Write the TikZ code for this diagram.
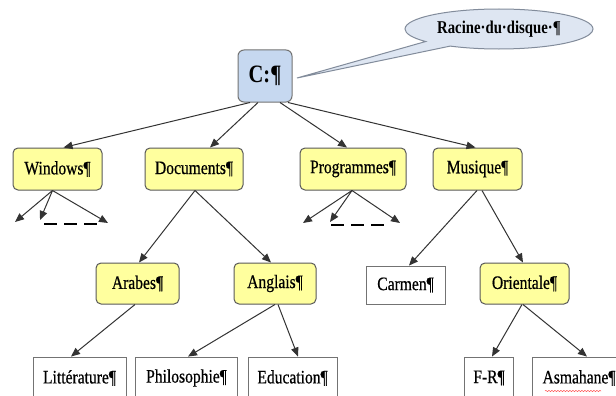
\documentclass[tikz,border=0pt]{standalone}
\usepackage{fontspec}
\setmainfont{Liberation Serif}[FakeStretch=0.82]
\newfontfamily\lblfont{Liberation Serif}[FakeStretch=0.82,FakeBold=0.6]
\usetikzlibrary{arrows.meta,shapes.callouts,decorations.pathmorphing}
\definecolor{ylw}{RGB}{255,255,158}
\definecolor{cblue}{RGB}{198,216,240}
\definecolor{callfill}{RGB}{222,230,242}
\definecolor{callline}{RGB}{130,140,155}
\begin{document}
\begin{tikzpicture}[x=1pt,y=-1pt,
  lbl/.style={font=\lblfont\fontsize{19}{21}\selectfont},
  ybox/.style={lbl, draw=black!65, fill=ylw, rounded corners=5pt, line width=1pt,
    minimum height=42pt, inner sep=2pt},
  wbox/.style={lbl, draw=black!55, fill=white, line width=0.9pt,
    minimum height=40pt, inner sep=2pt},
  cbox/.style={draw=black!55, fill=cblue, rounded corners=6pt, line width=1pt,
    minimum width=54pt, minimum height=52pt, inner sep=2pt,
    font=\fontsize{25}{27}\selectfont\bfseries},
  link/.style={draw=black!80, line width=1pt, -{Triangle[length=9pt,width=7.5pt]}},
  dashline/.style={draw=black, line width=2.8pt, dash pattern=on 13pt off 7pt}
]
\useasboundingbox (0,0) rectangle (616,396);
\clip (0,0) rectangle (616,396);
\fill[white] (0,0) rectangle (616,396);

% root and callout
\node[cbox] (C) at (265,76) {C:¶};
\coordinate (tip) at (297,78);
\node[ellipse callout, draw=callline, fill=callfill, line width=1pt,
  minimum width=188pt, minimum height=40pt, callout pointer arc=20,
  callout absolute pointer={(tip)},
  font=\fontsize{18}{20}\selectfont\bfseries] (call) at (499,29) {Racine·du·disque·¶};

% level 1
\node[ybox, minimum width=89pt] (win) at (57.5,169) {Windows¶};
\node[ybox, minimum width=98pt] (doc) at (194,169) {Documents¶};
\node[ybox, minimum width=106pt] (prog) at (353,169) {Programmes¶};
\node[ybox, minimum width=89pt] (mus) at (477.5,169) {Musique¶};

% level 2
\node[ybox, minimum width=83pt, minimum height=41pt] (arab) at (137.5,283.5) {Arabes¶};
\node[ybox, minimum width=82pt, minimum height=41pt] (angl) at (275,283.5) {Anglais¶};
\node[wbox, minimum width=79pt, minimum height=38pt] (carm) at (405.5,285) {Carmen¶};
\node[ybox, minimum width=89pt, minimum height=41pt] (orie) at (524.5,283.5) {Orientale¶};

% level 3
\node[wbox, minimum width=93pt, minimum height=42pt] (litt) at (79.5,378) {Littérature¶};
\node[wbox, minimum width=102pt, minimum height=42pt] (philo) at (186.5,378) {Philosophie¶};
\node[wbox, minimum width=89pt, minimum height=42pt] (edu) at (292.5,378) {Education¶};
\node[wbox, minimum width=49pt, minimum height=42pt] (fr) at (489,378) {F-R¶};
\node[wbox, minimum width=94pt, minimum height=42pt] (asma) at (579,378) {Asmahane¶};
\draw[red!70, line width=0.5pt, decorate, decoration={snake, amplitude=0.6pt, segment length=3pt}] (545,391) -- (601,391);

% links from root
\draw[link] ([xshift=-15pt]C.south) -- ([xshift=6pt]win.north);
\draw[link] ([xshift=-7pt]C.south) -- ([xshift=16pt]doc.north);
\draw[link] ([xshift=15pt]C.south) -- ([xshift=-6pt]prog.north);
\draw[link] ([xshift=23pt]C.south) -- ([xshift=-2pt]mus.north);

% Windows children
\coordinate (w1) at (15,222);
\coordinate (w2) at (40,220);
\coordinate (w3) at (108,223);
\coordinate (wd1) at (44,224);
\coordinate (wd2) at (97,224);
\draw[link] ([xshift=-5pt]win.south) -- (w1);
\draw[link] ([xshift=-5pt]win.south) -- (w2);
\draw[link] ([xshift=-5pt]win.south) -- (w3);
\draw[dashline] (wd1) -- (wd2);

% Programmes children
\coordinate (p1) at (303,223);
\coordinate (p2) at (330,222);
\coordinate (p3) at (400,223);
\coordinate (pd1) at (331,225);
\coordinate (pd2) at (390,225);
\draw[link] ([xshift=-1pt]prog.south) -- (p1);
\draw[link] ([xshift=-1pt]prog.south) -- (p2);
\draw[link] ([xshift=-1pt]prog.south) -- (p3);
\draw[dashline] (pd1) -- (pd2);

% Documents, Musique
\draw[link] ([xshift=1pt]doc.south) -- ([xshift=1.5pt]arab.north);
\draw[link] ([xshift=1pt]doc.south) -- ([xshift=-4pt]angl.north);
\draw[link] ([xshift=-0.5pt]mus.south) -- ([xshift=3.5pt]carm.north);
\draw[link] ([xshift=4.5pt]mus.south) -- ([xshift=-1.5pt]orie.north);

% level 2 -> level 3
\draw[link] ([xshift=-2.5pt]arab.south) -- ([xshift=-8.5pt]litt.north);
\draw[link] (angl.south) -- ([xshift=1.5pt]philo.north);
\draw[link] ([xshift=3pt]angl.south) -- ([xshift=5.5pt]edu.north);
\draw[link] ([xshift=-2.5pt]orie.south) -- ([xshift=3pt]fr.north);
\draw[link] ([xshift=-1.5pt]orie.south) -- ([xshift=8pt]asma.north);
\end{tikzpicture}
\end{document}
